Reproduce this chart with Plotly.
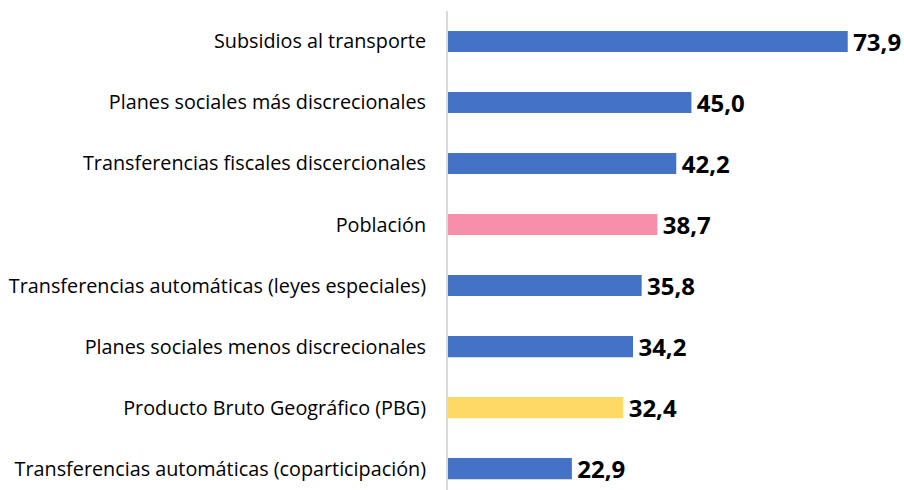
import plotly.graph_objects as go

categories = [
    "Subsidios al transporte",
    "Planes sociales más discrecionales",
    "Transferencias fiscales discercionales",
    "Población",
    "Transferencias automáticas (leyes especiales)",
    "Planes sociales menos discrecionales",
    "Producto Bruto Geográfico (PBG)",
    "Transferencias automáticas (coparticipación)",
]
values = [73.9, 45.0, 42.2, 38.7, 35.8, 34.2, 32.4, 22.9]
value_labels = ["73,9", "45,0", "42,2", "38,7", "35,8", "34,2", "32,4", "22,9"]
colors = ["#4472C4", "#4472C4", "#4472C4", "#F78FAB", "#4472C4", "#4472C4", "#FFD966", "#4472C4"]

fig = go.Figure(go.Bar(
    x=values,
    y=categories,
    orientation="h",
    marker=dict(color=colors, line=dict(width=0)),
    width=0.345,
    text=value_labels,
    texttemplate="\u200a%{text}",
    textposition="outside",
    constraintext="none",
    textfont=dict(family="Open Sans", size=24, color="#000000", weight="bold"),
    cliponaxis=False,
))

fig.update_layout(
    width=904,
    height=490,
    margin=dict(l=448, r=0, t=11, b=0, autoexpand=False),
    plot_bgcolor="white",
    paper_bgcolor="white",
    showlegend=False,
    xaxis=dict(range=[0, 84.3], visible=False, showgrid=False, zeroline=False),
    yaxis=dict(
        categoryorder="array",
        categoryarray=categories,
        range=[7.35, -0.5],
        showline=True,
        linecolor="#D9D9D9",
        linewidth=2,
        ticks="",
        showgrid=False,
        ticklabelstandoff=16,
        tickfont=dict(family="Open Sans", size=19.8, color="#000000"),
    ),
)

fig.write_html(
    "out.html",
    config={"displayModeBar": False},
    post_script="document.body.style.margin='0';document.body.style.overflow='hidden';",
)
